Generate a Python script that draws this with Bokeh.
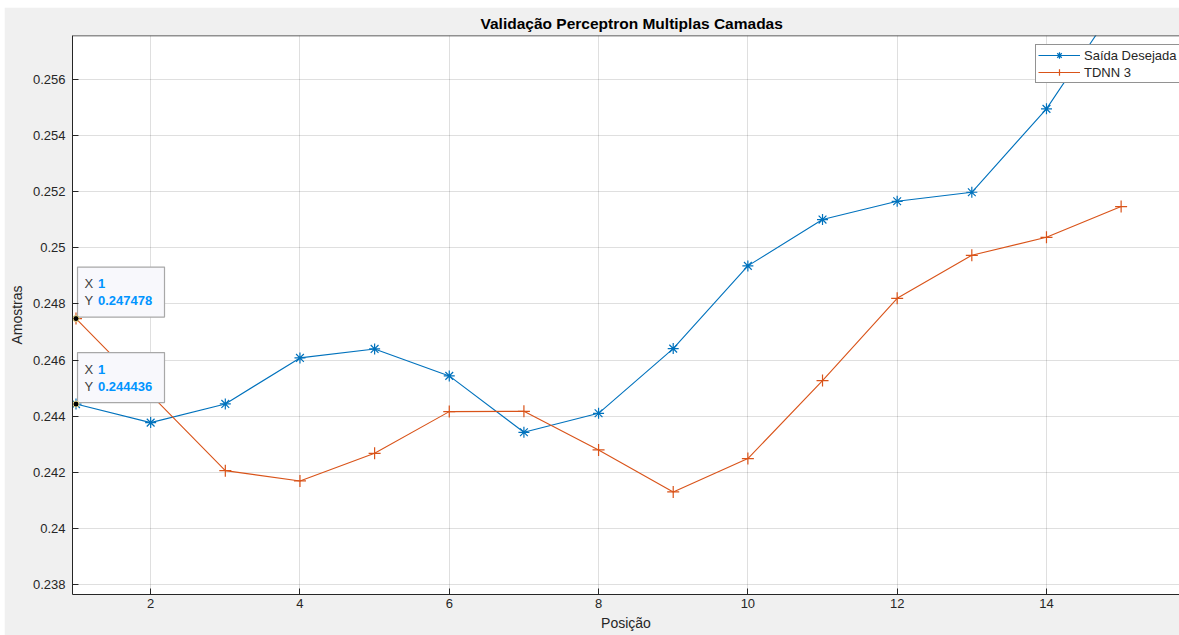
from bokeh.plotting import figure
from bokeh.models import Range1d, FixedTicker, Span
from bokeh.embed import file_html
from bokeh.resources import INLINE
from bokeh.core.properties import value

# ---- data ----
posicao = list(range(1, 16))
saida_desejada = [0.244436, 0.243776, 0.244441, 0.246078, 0.246398, 0.245438, 0.243431,
                  0.244107, 0.246409, 0.249352, 0.251000, 0.251651, 0.251972, 0.254940, 0.258900]
tdnn3 = [0.247478, 0.244770, 0.242067, 0.241701, 0.242683, 0.244167, 0.244178,
         0.242804, 0.241310, 0.242495, 0.245270, 0.248200, 0.249730, 0.250370, 0.251463]
x_ticks = [2, 4, 6, 8, 10, 12, 14, 16]
y_ticks = [0.238, 0.240, 0.242, 0.244, 0.246, 0.248, 0.250, 0.252, 0.254, 0.256]
y_tick_labels = ["0.238", "0.24", "0.242", "0.244", "0.246", "0.248", "0.25", "0.252", "0.254", "0.256"]
datatip_x = [1, 1]
datatip_y = [0.247478, 0.244436]
datatip_text = ["0.247478", "0.244436"]
title_text = "Validação Perceptron Multiplas Camadas"
xlabel_text = "Posição"
ylabel_text = "Amostras"

# ---- layout ----
MARGIN_TOP, MARGIN_LEFT = 7, 4
FIG_W, FIG_H = 1175, 628
BL, BT, BR, BB = 68, 28, 0, 41
frame_w = FIG_W - BL - BR
frame_h = FIG_H - BT - BB
x_start, x_end = 0.953, 15.782
y_start, y_end = 0.23766, 0.25755
pxx = frame_w / (x_end - x_start)
pxy = frame_h / (y_end - y_start)

FONT = "Liberation Sans"
AX = "#262626"
BLUE = "#0072BD"
ORANGE = "#D95319"

p = figure(width=FIG_W, height=FIG_H,
           x_range=Range1d(x_start, x_end), y_range=Range1d(y_start, y_end),
           output_backend="svg", toolbar_location=None,
           min_border_left=BL, min_border_right=BR, min_border_top=BT, min_border_bottom=BB,
           title=title_text)
p.margin = (MARGIN_TOP, 0, 0, MARGIN_LEFT)
p.border_fill_color = "#f0f0f0"
p.background_fill_color = "white"
p.outline_line_color = None

p.title.text_font = FONT
p.title.text_font_size = "15.5px"
p.title.text_font_style = "bold"
p.title.text_color = "#000000"
p.title.align = "left"
p.title.offset = 408
p.title.standoff = 7

for ax in (p.xaxis[0], p.yaxis[0]):
    ax.axis_line_color = AX
    ax.major_tick_line_color = AX
    ax.major_tick_in = 6
    ax.major_tick_out = 0
    ax.minor_tick_line_color = None
    ax.major_label_text_font = FONT
    ax.major_label_text_font_size = "13px"
    ax.major_label_text_color = AX
    ax.axis_label_text_font = FONT
    ax.axis_label_text_font_size = "14px"
    ax.axis_label_text_font_style = "normal"
    ax.axis_label_text_color = AX

p.xaxis.ticker = FixedTicker(ticks=x_ticks)
p.xaxis.major_label_standoff = 4
p.xaxis.axis_label = xlabel_text
p.xaxis.axis_label_standoff = 4
p.yaxis.ticker = FixedTicker(ticks=y_ticks)
p.yaxis.major_label_overrides = dict(zip(y_ticks, y_tick_labels))
p.yaxis.major_label_standoff = 7
p.yaxis.axis_label = ylabel_text
p.yaxis.axis_label_standoff = 5

p.grid.grid_line_color = AX
p.grid.grid_line_alpha = 0.15
p.xgrid.ticker = FixedTicker(ticks=x_ticks)
p.ygrid.ticker = FixedTicker(ticks=y_ticks)

# top border of the box
p.add_layout(Span(location=y_end, dimension="width", line_color=AX, line_width=1.5))

# ---- series ----
p.line(posicao, saida_desejada, line_color=BLUE, line_width=1.1, legend_label="Saída Desejada")
p.scatter(posicao, saida_desejada, marker="asterisk", size=11, line_color=BLUE, line_width=1.2,
          legend_label="Saída Desejada")
p.line(posicao, tdnn3, line_color=ORANGE, line_width=1.1, legend_label="TDNN 3")
p.scatter(posicao, tdnn3, marker="cross", size=12, line_color=ORANGE, line_width=1.2,
          legend_label="TDNN 3")

# ---- data tips ----
box_dx, box_dy = 45, 26.5
box_cx = [xv + box_dx / pxx for xv in datatip_x]
box_cy = [yv + box_dy / pxy for yv in datatip_y]
p.rect(box_cx, box_cy, width=87, height=50, width_units="screen", height_units="screen",
       fill_color="#f8f8fc", line_color="#a8a8a8", line_width=1.2)
p.text(datatip_x, datatip_y, text=["X", "X"], x_offset=8.5, y_offset=-35,
       text_font=value(FONT), text_font_size="13px", text_color="#404040", text_baseline="middle")
p.text(datatip_x, datatip_y, text=["1", "1"], x_offset=22, y_offset=-35,
       text_font=value(FONT), text_font_size="13px", text_font_style="bold",
       text_color="#0094FF", text_baseline="middle")
p.text(datatip_x, datatip_y, text=["Y", "Y"], x_offset=8.5, y_offset=-18,
       text_font=value(FONT), text_font_size="13px", text_color="#404040", text_baseline="middle")
p.text(datatip_x, datatip_y, text=datatip_text, x_offset=22, y_offset=-18,
       text_font=value(FONT), text_font_size="13px", text_font_style="bold",
       text_color="#0094FF", text_baseline="middle")
p.scatter(datatip_x, datatip_y, marker="circle", size=6, fill_color="black",
          line_color="#e8d98a", line_width=1)

# ---- legend ----
lg = p.legend[0]
lg.location = (963, 511)
lg.label_text_font = FONT
lg.label_text_font_size = "13px"
lg.label_text_color = AX
lg.glyph_width = 42
lg.glyph_height = 16
lg.label_height = 16
lg.label_standoff = 4
lg.spacing = 1
lg.padding = 2
lg.margin = 0
lg.border_line_color = AX
lg.border_line_width = 1
lg.background_fill_color = "white"
lg.background_fill_alpha = 1

open("out.html", "w").write(file_html(p, INLINE))
